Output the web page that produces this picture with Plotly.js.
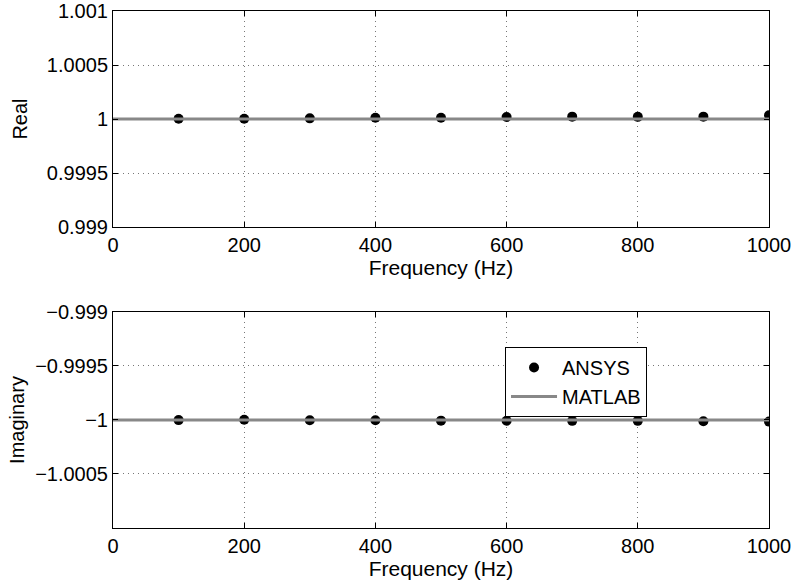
<!DOCTYPE html>
<html>
<head>
<meta charset="utf-8">
<script src="https://cdn.plot.ly/plotly-3.0.1.min.js"></script>
<style>html,body{margin:0;padding:0;background:#fff;}#chart{width:792px;height:580px;}</style>
</head>
<body>
<div id="chart"></div>
<script>
// Data
const freq = [100, 200, 300, 400, 500, 600, 700, 800, 900, 1000];
const ansysReal = [1.000002, 1.000002, 1.000006, 1.000012, 1.000012, 1.000018, 1.000022, 1.000020, 1.000022, 1.000035];
const ansysImag = [-1.000001, -0.999998, -1.000002, -1.000002, -1.000006, -1.000007, -1.000008, -1.000008, -1.000012, -1.000015];
const matlabFreq = [0, 1000];
const matlabReal = [1, 1];
const matlabImag = [-1, -1];

const xTickVals = [0, 200, 400, 600, 800, 1000];
const realTickVals = [0.999, 0.9995, 1, 1.0005, 1.001];
const realTickText = ['0.999', '0.9995', '1', '1.0005', '1.001'];
const imagTickVals = [-1.001, -1.0005, -1, -0.9995, -0.999];
const imagTickText = ['', '\u22121.0005', '\u22121', '\u22120.9995', '\u22120.999'];

const font = {family: 'Liberation Sans, Arial, Helvetica, sans-serif', size: 20, color: '#000'};
const titleFont = {family: 'Liberation Sans, Arial, Helvetica, sans-serif', size: 21, color: '#000'};
const markerStyle = {color: '#000', size: 10, symbol: 'circle'};
const lineStyle = {color: '#888888', width: 3};

const traces = [
  {x: freq, y: ansysReal, type: 'scatter', mode: 'markers', marker: markerStyle, name: 'ANSYS', showlegend: false, xaxis: 'x', yaxis: 'y'},
  {x: matlabFreq, y: matlabReal, type: 'scatter', mode: 'lines', line: lineStyle, name: 'MATLAB', showlegend: false, xaxis: 'x', yaxis: 'y'},
  {x: freq, y: ansysImag, type: 'scatter', mode: 'markers', marker: markerStyle, name: 'ANSYS', showlegend: true, xaxis: 'x2', yaxis: 'y2'},
  {x: matlabFreq, y: matlabImag, type: 'scatter', mode: 'lines', line: lineStyle, name: 'MATLAB', showlegend: true, xaxis: 'x2', yaxis: 'y2'}
];

function xAxis(anchor) {
  return {
    anchor: anchor, domain: [0, 1], range: [0, 1000],
    tickvals: xTickVals, ticks: 'inside', ticklen: 5, tickcolor: '#000',
    showline: true, linecolor: '#000', linewidth: 1, mirror: 'ticks',
    showgrid: true, gridcolor: '#777777', griddash: '1px,4px', gridwidth: 1,
    zeroline: false, tickfont: font,
    title: {text: 'Frequency (Hz)', font: titleFont, standoff: 0}
  };
}
function yAxis(anchor, domain, range, vals, text, title, standoff) {
  return {
    anchor: anchor, domain: domain, range: range,
    tickvals: vals, ticktext: text, ticks: 'inside', ticklen: 5, tickcolor: '#000',
    showline: true, linecolor: '#000', linewidth: 1, mirror: 'ticks',
    showgrid: true, gridcolor: '#777777', griddash: '1px,4px', gridwidth: 1,
    zeroline: false, tickfont: font,
    title: {text: title, font: font, standoff: standoff}
  };
}

const layout = {
  width: 792, height: 580,
  margin: {l: 113, r: 23, t: 11, b: 52},
  paper_bgcolor: '#fff', plot_bgcolor: '#fff',
  font: font,
  xaxis: xAxis('y'),
  yaxis: yAxis('x', [0.5822, 1], [0.999, 1.001], realTickVals, realTickText, 'Real', 13),
  xaxis2: xAxis('y2'),
  yaxis2: yAxis('x2', [0, 0.4178], [-1.001, -0.999], imagTickVals, imagTickText, 'Imaginary', 5),
  showlegend: true,
  legend: {
    x: 0.5976, y: 0.2824, xanchor: 'left', yanchor: 'middle', xref: 'paper', yref: 'paper',
    bgcolor: '#fff', bordercolor: '#000', borderwidth: 1,
    font: font, tracegroupgap: 0, itemwidth: 46
  }
};

Plotly.newPlot('chart', traces, layout, {displayModeBar: false, staticPlot: true});
</script>
</body>
</html>
